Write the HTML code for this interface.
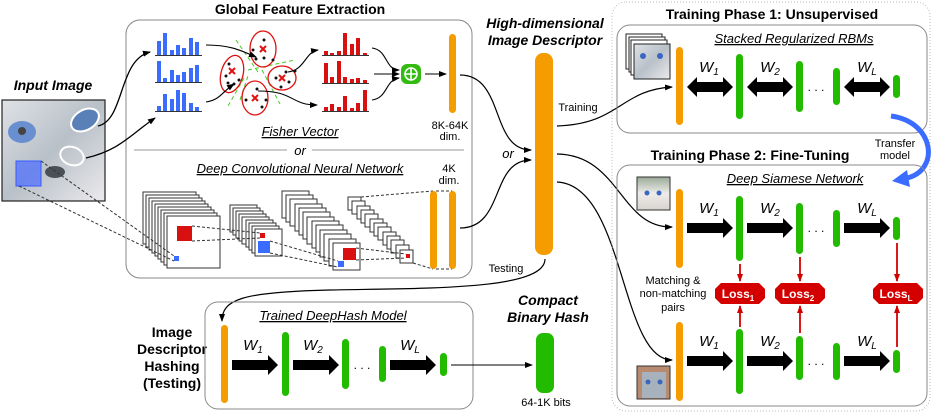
<!DOCTYPE html>
<html><head><meta charset="utf-8"><style>
html,body{margin:0;padding:0;background:#fff}
svg{display:block}
text{font-family:"Liberation Sans",Arial,sans-serif}
.b{font-weight:bold}
.t{font-size:14px;font-weight:bold}
.s{font-size:11px}
.u{font-size:13px;font-style:italic;text-decoration:underline}
.w{font-size:15px;font-style:italic}
</style></head><body>
<svg width="933" height="413" viewBox="0 0 933 413" xmlns="http://www.w3.org/2000/svg">
<defs>
<marker id="ah" markerWidth="8" markerHeight="8" refX="7" refY="4" orient="auto" markerUnits="userSpaceOnUse"><path d="M0,1 L8,4 L0,7 z" fill="#000"/></marker>
<marker id="rh" markerWidth="8" markerHeight="8" refX="7" refY="4" orient="auto" markerUnits="userSpaceOnUse"><path d="M0,1 L8,4 L0,7 z" fill="#d40000"/></marker>
<linearGradient id="cat" x1="0" y1="0" x2="1" y2="1"><stop offset="0" stop-color="#dfe2e6"/><stop offset="0.5" stop-color="#b8c0c8"/><stop offset="1" stop-color="#eceaec"/></linearGradient>
<linearGradient id="cat2" x1="0" y1="0" x2="0" y2="1"><stop offset="0" stop-color="#9aaa98"/><stop offset="0.5" stop-color="#eeecea"/><stop offset="1" stop-color="#d8d4d0"/></linearGradient>
</defs>

<text x="300" y="14" class="t" text-anchor="middle">Global Feature Extraction</text>
<text x="53" y="90" class="t" font-style="italic" text-anchor="middle">Input Image</text>

<rect x="2" y="100" width="103" height="101" fill="url(#cat)" stroke="#222" stroke-width="1.2"/>
<ellipse cx="22" cy="132" rx="14" ry="11" fill="#6a8fd0"/><circle cx="22" cy="131" r="4" fill="#444"/>
<ellipse cx="55" cy="172" rx="10" ry="6" fill="#4a5058"/>
<ellipse cx="85" cy="120" rx="15" ry="10" transform="rotate(-30 85 120)" fill="#5a80b8" stroke="#fff" stroke-width="2"/>
<ellipse cx="72" cy="156" rx="12" ry="9" transform="rotate(20 72 156)" fill="none" stroke="#fff" stroke-width="2"/>
<rect x="16" y="161" width="25" height="25" fill="#4a6bff" fill-opacity="0.7" stroke="#3a5aff"/>

<rect x="126" y="20" width="346" height="258" rx="14" fill="none" stroke="#888" stroke-width="1"/>
<line x1="134" y1="150" x2="287" y2="150" stroke="#999"/>
<line x1="312" y1="150" x2="464" y2="150" stroke="#999"/>
<text x="300" y="136" class="u" text-anchor="middle">Fisher Vector</text>
<text x="300" y="155" font-size="13" font-style="italic" text-anchor="middle">or</text>
<text x="300" y="173" class="u" text-anchor="middle">Deep Convolutional Neural Network</text>

<path d="M98,126 C125,120 118,60 150,52" fill="none" stroke="#000" stroke-width="1.3" marker-end="url(#ah)"/>
<path d="M86,158 C120,150 130,135 155,118" fill="none" stroke="#000" stroke-width="1.3" marker-end="url(#ah)"/>

<g fill="#3a6dff">
<rect x="157" y="41" width="4" height="14"/><rect x="163" y="33" width="4" height="22"/><rect x="170" y="50" width="4" height="5"/><rect x="176" y="45" width="4" height="10"/><rect x="182" y="48" width="4" height="7"/><rect x="189" y="38" width="4" height="17"/><rect x="195" y="42" width="4" height="13"/>
<rect x="157" y="61" width="4" height="21"/><rect x="163" y="78" width="4" height="4"/><rect x="170" y="70" width="4" height="12"/><rect x="176" y="75" width="4" height="7"/><rect x="182" y="72" width="4" height="10"/><rect x="189" y="68" width="4" height="14"/><rect x="195" y="65" width="4" height="17"/>
<rect x="157" y="106" width="4" height="5"/><rect x="163" y="94" width="4" height="17"/><rect x="170" y="99" width="4" height="12"/><rect x="176" y="90" width="4" height="21"/><rect x="182" y="93" width="4" height="18"/><rect x="189" y="103" width="4" height="8"/><rect x="195" y="107" width="4" height="4"/>
</g>
<g stroke="#333" stroke-width="1"><line x1="155" y1="55.5" x2="202" y2="55.5"/><line x1="155" y1="82.5" x2="202" y2="82.5"/><line x1="155" y1="111.5" x2="202" y2="111.5"/></g>

<g stroke="#44cc22" stroke-width="1" stroke-dasharray="4,3">
<line x1="236" y1="40" x2="258" y2="72"/><line x1="248" y1="70" x2="295" y2="60"/><line x1="240" y1="100" x2="248" y2="76"/><line x1="262" y1="70" x2="280" y2="104"/><line x1="244" y1="78" x2="228" y2="106"/>
</g>
<g fill="none" stroke="#e01010" stroke-width="1.3">
<ellipse cx="263" cy="49" rx="13" ry="18"/>
<ellipse cx="232" cy="74" rx="11" ry="19" transform="rotate(15 232 74)"/>
<ellipse cx="282" cy="78" rx="14" ry="12"/>
<ellipse cx="255" cy="98" rx="13" ry="17"/>
</g>
<g stroke="#e01010" stroke-width="2">
<path d="M260,46 l6,6 M266,46 l-6,6"/><path d="M229,68 l6,6 M235,68 l-6,6"/><path d="M279,75 l6,6 M285,75 l-6,6"/><path d="M252,95 l6,6 M258,95 l-6,6"/>
</g>
<g fill="#111">
<circle cx="264" cy="40" r="1.5"/><circle cx="253" cy="50" r="1.5"/><circle cx="264" cy="58" r="1.5"/><circle cx="273" cy="60" r="1.5"/><circle cx="256" cy="59" r="1.5"/>
<circle cx="229" cy="64" r="1.5"/><circle cx="226" cy="76" r="1.5"/><circle cx="228" cy="83" r="1.5"/><circle cx="234" cy="84" r="1.5"/><circle cx="239" cy="80" r="1.5"/>
<circle cx="286" cy="72" r="1.5"/><circle cx="276" cy="78" r="1.5"/><circle cx="289" cy="82" r="1.5"/><circle cx="281" cy="87" r="1.5"/><circle cx="295" cy="71" r="1.5"/>
<circle cx="257" cy="89" r="1.5"/><circle cx="246" cy="100" r="1.5"/><circle cx="262" cy="107" r="1.5"/><circle cx="266" cy="100" r="1.5"/>
</g>
<path d="M206,45 C230,45 240,50 256,57" fill="none" stroke="#000" stroke-width="1.1" marker-end="url(#ah)"/>
<path d="M206,102 C220,100 222,92 234,84" fill="none" stroke="#000" stroke-width="1.1" marker-end="url(#ah)"/>
<path d="M288,72 C305,70 305,52 318,50" fill="none" stroke="#000" stroke-width="1.1" marker-end="url(#ah)"/>
<path d="M258,91 C295,91 290,105 317,105" fill="none" stroke="#000" stroke-width="1.1" marker-end="url(#ah)"/>

<g fill="#d81010">
<rect x="324" y="51" width="4" height="4"/><rect x="330" y="53" width="4" height="2"/><rect x="337" y="51" width="4" height="4"/><rect x="343" y="33" width="4" height="22"/><rect x="350" y="44" width="4" height="11"/><rect x="356" y="38" width="4" height="17"/><rect x="363" y="53" width="4" height="2"/>
<rect x="324" y="63" width="4" height="20"/><rect x="330" y="77" width="4" height="6"/><rect x="337" y="61" width="4" height="22"/><rect x="343" y="77" width="4" height="6"/><rect x="350" y="79" width="4" height="4"/><rect x="356" y="78" width="4" height="5"/><rect x="363" y="80" width="4" height="3"/>
<rect x="324" y="107" width="4" height="4"/><rect x="330" y="104" width="4" height="7"/><rect x="337" y="107" width="4" height="4"/><rect x="343" y="96" width="4" height="15"/><rect x="350" y="108" width="4" height="3"/><rect x="356" y="103" width="4" height="8"/><rect x="363" y="90" width="4" height="21"/>
</g>
<g stroke="#333" stroke-width="1"><line x1="322" y1="55.5" x2="369" y2="55.5"/><line x1="322" y1="83.5" x2="369" y2="83.5"/><line x1="322" y1="111.5" x2="369" y2="111.5"/></g>
<path d="M372,48 C388,50 385,70 399,70" fill="none" stroke="#000" stroke-width="1.1" marker-end="url(#ah)"/>
<path d="M374,74 L399,74" fill="none" stroke="#000" stroke-width="1.1" marker-end="url(#ah)"/>
<path d="M372,100 C388,98 385,80 399,78" fill="none" stroke="#000" stroke-width="1.1" marker-end="url(#ah)"/>
<rect x="401" y="64" width="20" height="20" rx="6" fill="#33bb11"/>
<circle cx="411" cy="74" r="6" fill="none" stroke="#fff" stroke-width="1.6"/>
<path d="M411,68 V80 M405,74 H417" stroke="#fff" stroke-width="1.6"/>
<path d="M425,74 L446,74" stroke="#000" stroke-width="1.1" marker-end="url(#ah)"/>
<rect x="449" y="34" width="7" height="79" rx="3.5" fill="#f59c00"/>
<text x="450" y="129" class="s" text-anchor="middle">8K-64K</text>
<text x="450" y="140" class="s" text-anchor="middle">dim.</text>

<g fill="#fff" stroke="#333" stroke-width="1">
<rect x="143" y="192" width="53" height="52"/><rect x="146" y="195" width="53" height="52"/><rect x="149" y="198" width="53" height="52"/><rect x="152" y="201" width="53" height="52"/><rect x="155" y="204" width="53" height="52"/><rect x="158" y="207" width="53" height="52"/><rect x="161" y="210" width="53" height="52"/><rect x="164" y="213" width="53" height="52"/><rect x="167" y="216" width="53" height="52"/>
<rect x="230" y="205" width="27" height="27"/><rect x="233" y="208" width="27" height="27"/><rect x="236" y="211" width="27" height="27"/><rect x="239" y="214" width="27" height="27"/><rect x="242" y="217" width="27" height="27"/><rect x="246" y="220" width="27" height="27"/><rect x="249" y="223" width="27" height="27"/><rect x="252" y="226" width="27" height="27"/><rect x="255" y="229" width="27" height="27"/>
<rect x="282" y="191" width="27" height="27"/><rect x="286" y="195" width="27" height="27"/><rect x="290" y="199" width="27" height="27"/><rect x="295" y="204" width="27" height="27"/><rect x="299" y="208" width="27" height="27"/><rect x="303" y="212" width="27" height="27"/><rect x="307" y="217" width="27" height="27"/><rect x="312" y="221" width="27" height="27"/><rect x="316" y="225" width="27" height="27"/><rect x="320" y="230" width="27" height="27"/><rect x="324" y="234" width="27" height="27"/><rect x="329" y="239" width="27" height="27"/><rect x="333" y="243" width="27" height="27"/>
<rect x="348" y="197" width="13" height="13"/><rect x="352" y="201" width="13" height="13"/><rect x="357" y="206" width="13" height="13"/><rect x="361" y="210" width="13" height="13"/><rect x="365" y="214" width="13" height="13"/><rect x="370" y="219" width="13" height="13"/><rect x="374" y="223" width="13" height="13"/><rect x="378" y="227" width="13" height="13"/><rect x="383" y="232" width="13" height="13"/><rect x="387" y="236" width="13" height="13"/><rect x="391" y="240" width="13" height="13"/><rect x="396" y="245" width="13" height="13"/><rect x="400" y="250" width="13" height="13"/>
</g>
<rect x="177" y="226" width="15" height="15" fill="#d81010"/>
<rect x="174" y="256" width="5" height="5" fill="#3a6dff"/>
<rect x="260" y="233" width="5" height="5" fill="#d81010"/>
<rect x="258" y="241" width="12" height="12" fill="#3a6dff"/>
<rect x="343" y="248" width="13" height="12" fill="#d81010"/>
<rect x="338" y="261" width="6" height="6" fill="#3a6dff"/>
<rect x="406" y="254" width="4" height="4" fill="#d81010"/>
<g stroke="#333" stroke-width="1" stroke-dasharray="3,2" fill="none">
<line x1="41" y1="161" x2="174" y2="256"/><line x1="19" y1="186" x2="174" y2="261"/>
<line x1="192" y1="226" x2="260" y2="233"/><line x1="192" y1="241" x2="260" y2="238"/>
<line x1="270" y1="241" x2="338" y2="261"/><line x1="270" y1="253" x2="338" y2="267"/>
<line x1="356" y1="248" x2="406" y2="254"/><line x1="356" y1="260" x2="406" y2="258"/>
<line x1="361" y1="197" x2="433" y2="191"/><line x1="436" y1="191" x2="452" y2="191"/>
<line x1="413" y1="263" x2="433" y2="269"/><line x1="436" y1="269" x2="452" y2="269"/>
</g>
<rect x="430" y="191" width="7" height="78" rx="3.5" fill="#f59c00"/>
<rect x="449" y="191" width="7" height="78" rx="3.5" fill="#f59c00"/>
<text x="449" y="172" class="s" text-anchor="middle">4K</text>
<text x="449" y="184" class="s" text-anchor="middle">dim.</text>

<text x="545" y="28" class="t" font-style="italic" text-anchor="middle">High-dimensional</text>
<text x="545" y="45" class="t" font-style="italic" text-anchor="middle">Image Descriptor</text>
<rect x="535" y="53" width="18" height="202" rx="8" fill="#f59c00"/>
<path d="M460,75 C505,75 490,150 531,150" fill="none" stroke="#000" stroke-width="1.2" marker-end="url(#ah)"/>
<path d="M460,228 C505,228 490,160 531,160" fill="none" stroke="#000" stroke-width="1.2" marker-end="url(#ah)"/>
<text x="508" y="158" font-size="13" font-style="italic" text-anchor="middle">or</text>
<text x="578" y="111" class="s" text-anchor="middle">Training</text>
<text x="506" y="272" class="s" text-anchor="middle">Testing</text>
<path d="M557,126 C620,124 620,90 672,87" fill="none" stroke="#000" stroke-width="1.2" marker-end="url(#ah)"/>
<path d="M557,154 C620,155 620,228 672,227" fill="none" stroke="#000" stroke-width="1.2" marker-end="url(#ah)"/>
<path d="M557,182 C625,185 620,360 672,360" fill="none" stroke="#000" stroke-width="1.2" marker-end="url(#ah)"/>
<path d="M545,259 C545,290 430,288 330,290 C240,292 222,300 222,321" fill="none" stroke="#000" stroke-width="1.2" marker-end="url(#ah)"/>

<text x="172" y="337" class="t" text-anchor="middle">Image</text>
<text x="172" y="354" class="t" text-anchor="middle">Descriptor</text>
<text x="172" y="371" class="t" text-anchor="middle">Hashing</text>
<text x="172" y="388" class="t" text-anchor="middle">(Testing)</text>
<rect x="205" y="302" width="268" height="107" rx="13" fill="none" stroke="#888"/>
<text x="333" y="320" class="u" text-anchor="middle">Trained DeepHash Model</text>
<rect x="221" y="325" width="7" height="78" rx="3.5" fill="#f59c00"/>
<rect x="282" y="332" width="7" height="64" rx="3.5" fill="#22bb00"/>
<rect x="342" y="339" width="7" height="50" rx="3.5" fill="#22bb00"/>
<rect x="379" y="346" width="7" height="36" rx="3.5" fill="#22bb00"/>
<rect x="440" y="353" width="7" height="23" rx="3.5" fill="#22bb00"/>
<g fill="#000">
<polygon points="232,360 268,360 268,355 278,365 268,375 268,370 232,370"/>
<polygon points="293,360 329,360 329,355 339,365 329,375 329,370 293,370"/>
<polygon points="390,360 426,360 426,355 436,365 426,375 426,370 390,370"/>
</g>
<text x="253" y="350" class="w" text-anchor="middle">W<tspan font-size="10" dy="3">1</tspan></text>
<text x="313" y="350" class="w" text-anchor="middle">W<tspan font-size="10" dy="3">2</tspan></text>
<text x="410" y="350" class="w" text-anchor="middle">W<tspan font-size="10" dy="3">L</tspan></text>
<text x="362" y="369" font-size="12" text-anchor="middle">. . .</text>
<path d="M451,365 L532,365" stroke="#000" stroke-width="1.1" marker-end="url(#ah)"/>
<text x="548" y="305" class="t" font-style="italic" text-anchor="middle">Compact</text>
<text x="548" y="322" class="t" font-style="italic" text-anchor="middle">Binary Hash</text>
<rect x="536" y="333" width="18" height="60" rx="7" fill="#22bb00"/>
<text x="546" y="406" class="s" text-anchor="middle">64-1K bits</text>

<rect x="612" y="2" width="318" height="409" rx="14" fill="none" stroke="#bbb" stroke-dasharray="1,2"/>
<text x="772" y="19" class="t" text-anchor="middle">Training Phase 1: Unsupervised</text>
<rect x="617" y="25" width="310" height="108" rx="13" fill="none" stroke="#888"/>
<text x="794" y="43" class="u" text-anchor="middle">Stacked Regularized RBMs</text>
<g fill="#fff" stroke="#222"><rect x="626" y="34" width="36" height="35"/><rect x="629" y="37" width="36" height="35"/><rect x="631" y="40" width="36" height="35"/></g>
<rect x="634" y="44" width="36" height="35" fill="url(#cat)" stroke="#222"/>
<circle cx="643" cy="56" r="3" fill="#3b66c0"/><circle cx="660" cy="56" r="3" fill="#3b66c0"/>
<rect x="676" y="47" width="7" height="78" rx="3.5" fill="#f59c00"/>
<rect x="736" y="54" width="7" height="65" rx="3.5" fill="#22bb00"/>
<rect x="796" y="61" width="7" height="51" rx="3.5" fill="#22bb00"/>
<rect x="833" y="68" width="7" height="37" rx="3.5" fill="#22bb00"/>
<rect x="893" y="75" width="7" height="23" rx="3.5" fill="#22bb00"/>
<g fill="#000">
<polygon points="687,87 697,77 697,82 723,82 723,77 733,87 723,97 723,92 697,92 697,97"/>
<polygon points="747,87 757,77 757,82 783,82 783,77 793,87 783,97 783,92 757,92 757,97"/>
<polygon points="844,87 854,77 854,82 880,82 880,77 890,87 880,97 880,92 854,92 854,97"/>
</g>
<text x="709" y="72" class="w" text-anchor="middle">W<tspan font-size="10" dy="3">1</tspan></text>
<text x="770" y="72" class="w" text-anchor="middle">W<tspan font-size="10" dy="3">2</tspan></text>
<text x="867" y="72" class="w" text-anchor="middle">W<tspan font-size="10" dy="3">L</tspan></text>
<text x="816" y="91" font-size="12" text-anchor="middle">. . .</text>

<path d="M891,116 C935,122 940,170 907,178" fill="none" stroke="#3a6dff" stroke-width="5"/>
<polygon points="892,181 907,170 910,187" fill="#3a6dff"/>
<text x="895" y="147" class="s" text-anchor="middle">Transfer</text>
<text x="895" y="159" class="s" text-anchor="middle">model</text>

<text x="750" y="160" class="t" text-anchor="middle">Training Phase 2: Fine-Tuning</text>
<rect x="617" y="165" width="310" height="241" rx="13" fill="none" stroke="#888"/>
<text x="795" y="183" class="u" text-anchor="middle">Deep Siamese Network</text>
<rect x="637" y="177" width="33" height="33" fill="url(#cat2)" stroke="#333"/>
<circle cx="647" cy="193" r="2.5" fill="#3b66c0"/><circle cx="659" cy="193" r="2.5" fill="#3b66c0"/>
<rect x="637" y="366" width="33" height="33" fill="#b88a70" stroke="#333"/>
<rect x="642" y="372" width="24" height="26" fill="#a8b2bc"/>
<circle cx="648" cy="382" r="2.5" fill="#3b66c0"/><circle cx="660" cy="382" r="2.5" fill="#3b66c0"/>

<rect x="676" y="189" width="7" height="79" rx="3.5" fill="#f59c00"/>
<rect x="736" y="196" width="7" height="65" rx="3.5" fill="#22bb00"/>
<rect x="796" y="203" width="7" height="51" rx="3.5" fill="#22bb00"/>
<rect x="833" y="210" width="7" height="37" rx="3.5" fill="#22bb00"/>
<rect x="893" y="217" width="7" height="23" rx="3.5" fill="#22bb00"/>
<g fill="#000">
<polygon points="687,223 723,223 723,218 733,228 723,238 723,233 687,233"/>
<polygon points="747,223 783,223 783,218 793,228 783,238 783,233 747,233"/>
<polygon points="844,223 880,223 880,218 890,228 880,238 880,233 844,233"/>
</g>
<text x="709" y="213" class="w" text-anchor="middle">W<tspan font-size="10" dy="3">1</tspan></text>
<text x="770" y="213" class="w" text-anchor="middle">W<tspan font-size="10" dy="3">2</tspan></text>
<text x="867" y="213" class="w" text-anchor="middle">W<tspan font-size="10" dy="3">L</tspan></text>
<text x="816" y="232" font-size="12" text-anchor="middle">. . .</text>

<rect x="676" y="322" width="7" height="79" rx="3.5" fill="#f59c00"/>
<rect x="736" y="329" width="7" height="65" rx="3.5" fill="#22bb00"/>
<rect x="796" y="336" width="7" height="44" rx="3.5" fill="#22bb00"/>
<rect x="833" y="343" width="7" height="37" rx="3.5" fill="#22bb00"/>
<rect x="893" y="350" width="7" height="23" rx="3.5" fill="#22bb00"/>
<g fill="#000">
<polygon points="687,356 723,356 723,351 733,361 723,371 723,366 687,366"/>
<polygon points="747,356 783,356 783,351 793,361 783,371 783,366 747,366"/>
<polygon points="844,356 880,356 880,351 890,361 880,371 880,366 844,366"/>
</g>
<text x="709" y="346" class="w" text-anchor="middle">W<tspan font-size="10" dy="3">1</tspan></text>
<text x="770" y="346" class="w" text-anchor="middle">W<tspan font-size="10" dy="3">2</tspan></text>
<text x="867" y="346" class="w" text-anchor="middle">W<tspan font-size="10" dy="3">L</tspan></text>
<text x="816" y="365" font-size="12" text-anchor="middle">. . .</text>

<text x="673" y="284" class="s" font-size="11.5" text-anchor="middle">Matching &amp;</text>
<text x="673" y="297" class="s" font-size="11.5" text-anchor="middle">non-matching</text>
<text x="673" y="311" class="s" font-size="11.5" text-anchor="middle">pairs</text>

<g fill="#d40000">
<polygon points="721,283 759,283 765,289 765,298 759,304 721,304 715,298 715,289"/>
<polygon points="781,283 819,283 825,289 825,298 819,304 781,304 775,298 775,289"/>
<polygon points="879,283 917,283 923,289 923,298 917,304 879,304 873,298 873,289"/>
</g>
<text x="738" y="298" fill="#fff" class="b" font-size="12" text-anchor="middle">Loss<tspan font-size="8" dy="3">1</tspan></text>
<text x="798" y="298" fill="#fff" class="b" font-size="12" text-anchor="middle">Loss<tspan font-size="8" dy="3">2</tspan></text>
<text x="896" y="298" fill="#fff" class="b" font-size="12" text-anchor="middle">Loss<tspan font-size="8" dy="3">L</tspan></text>
<g stroke="#d40000" stroke-width="1.8">
<line x1="740" y1="264" x2="740" y2="281" marker-end="url(#rh)"/>
<line x1="740" y1="327" x2="740" y2="306" marker-end="url(#rh)"/>
<line x1="800" y1="257" x2="800" y2="281" marker-end="url(#rh)"/>
<line x1="800" y1="333" x2="800" y2="306" marker-end="url(#rh)"/>
<line x1="897" y1="243" x2="897" y2="281" marker-end="url(#rh)"/>
<line x1="897" y1="347" x2="897" y2="306" marker-end="url(#rh)"/>
</g>
</svg>
</body></html>
